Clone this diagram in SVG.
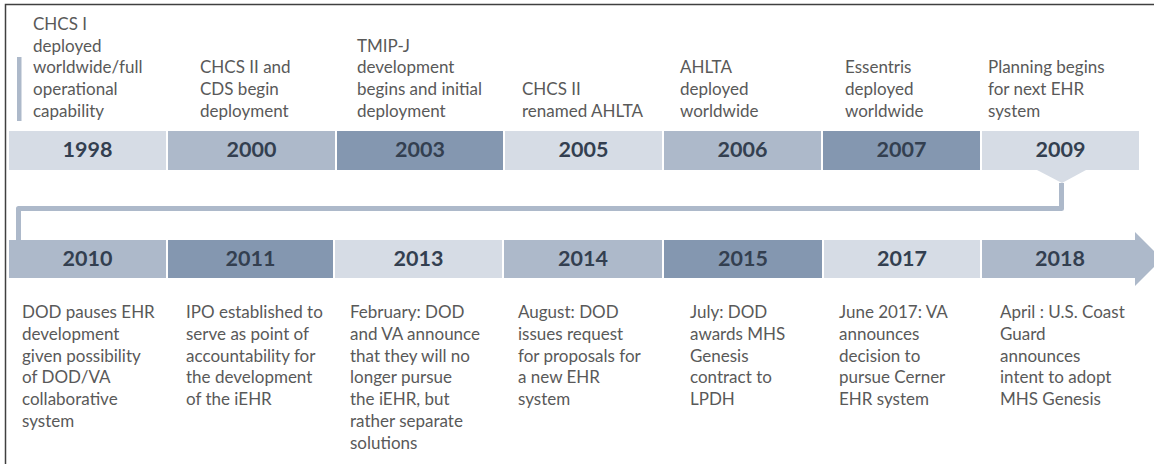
<svg xmlns="http://www.w3.org/2000/svg" width="1154" height="464" viewBox="0 0 1154 464">
<style>
.light{fill:#d6dce5}
.med{fill:#adb9ca}
.dark{fill:#8497b0}
.yr{font-family:Lato,"Liberation Sans",sans-serif;font-weight:bold;font-size:21.5px;fill:#333f50;text-anchor:middle}
.desc{font-family:Lato,"Liberation Sans",sans-serif;font-size:17px;fill:#595959}
.conn{fill:none;stroke:#adb9ca;stroke-width:5;stroke-linejoin:round}
</style>
<rect x="5.5" y="4.5" width="1160" height="470" fill="#ffffff" stroke="#404040" stroke-width="1.5"/>
<rect x="17" y="57" width="4.5" height="64" fill="#adb9ca"/>
<g id="connectors">
<polygon points="1037,170 1086,170 1062,183" fill="#d6dce5"/>
<polyline class="conn" points="1061.5,183 1061.5,208.5 18.5,208.5 18.5,240"/>
</g>
<g id="n1998"><rect class="light" x="9" y="131" width="157" height="39"/><text class="yr" x="87.5" y="157">1998</text>
<text class="desc" x="33" y="30"><tspan x="33" dy="0">CHCS I</tspan><tspan x="33" dy="21.7">deployed</tspan><tspan x="33" dy="21.7">worldwide/full</tspan><tspan x="33" dy="21.7">operational</tspan><tspan x="33" dy="21.7">capability</tspan></text></g>
<g id="n2000"><rect class="med" x="168" y="131" width="167" height="39"/><text class="yr" x="251.5" y="157">2000</text>
<text class="desc" x="200" y="73.4"><tspan x="200" dy="0">CHCS II and</tspan><tspan x="200" dy="21.7">CDS begin</tspan><tspan x="200" dy="21.7">deployment</tspan></text></g>
<g id="n2003"><rect class="dark" x="337" y="131" width="166" height="39"/><text class="yr" x="420" y="157">2003</text>
<text class="desc" x="357" y="51.7"><tspan x="357" dy="0">TMIP-J</tspan><tspan x="357" dy="21.7">development</tspan><tspan x="357" dy="21.7">begins and initial</tspan><tspan x="357" dy="21.7">deployment</tspan></text></g>
<g id="n2005"><rect class="light" x="505" y="131" width="157" height="39"/><text class="yr" x="583.5" y="157">2005</text>
<text class="desc" x="522" y="95.1"><tspan x="522" dy="0">CHCS II</tspan><tspan x="522" dy="21.7">renamed AHLTA</tspan></text></g>
<g id="n2006"><rect class="med" x="664" y="131" width="157" height="39"/><text class="yr" x="742.5" y="157">2006</text>
<text class="desc" x="680" y="73.4"><tspan x="680" dy="0">AHLTA</tspan><tspan x="680" dy="21.7">deployed</tspan><tspan x="680" dy="21.7">worldwide</tspan></text></g>
<g id="n2007"><rect class="dark" x="823" y="131" width="157" height="39"/><text class="yr" x="901.5" y="157">2007</text>
<text class="desc" x="845" y="73.4"><tspan x="845" dy="0">Essentris</tspan><tspan x="845" dy="21.7">deployed</tspan><tspan x="845" dy="21.7">worldwide</tspan></text></g>
<g id="n2009"><rect class="light" x="982" y="131" width="157" height="39"/><text class="yr" x="1060.5" y="157">2009</text>
<text class="desc" x="988" y="73.4"><tspan x="988" dy="0">Planning begins</tspan><tspan x="988" dy="21.7">for next EHR</tspan><tspan x="988" dy="21.7">system</tspan></text></g>
<g id="n2010"><rect class="med" x="9" y="240" width="157" height="38"/><text class="yr" x="87.5" y="266">2010</text>
<text class="desc" x="22" y="318.3"><tspan x="22" dy="0">DOD pauses EHR</tspan><tspan x="22" dy="21.7">development</tspan><tspan x="22" dy="21.7">given possibility</tspan><tspan x="22" dy="21.7">of DOD/VA</tspan><tspan x="22" dy="21.7">collaborative</tspan><tspan x="22" dy="21.7">system</tspan></text></g>
<g id="n2011"><rect class="dark" x="168" y="240" width="165" height="38"/><text class="yr" x="250.5" y="266">2011</text>
<text class="desc" x="186" y="318.3"><tspan x="186" dy="0">IPO established to</tspan><tspan x="186" dy="21.7">serve as point of</tspan><tspan x="186" dy="21.7">accountability for</tspan><tspan x="186" dy="21.7">the development</tspan><tspan x="186" dy="21.7">of the iEHR</tspan></text></g>
<g id="n2013"><rect class="light" x="335" y="240" width="167" height="38"/><text class="yr" x="418.5" y="266">2013</text>
<text class="desc" x="350" y="318.3"><tspan x="350" dy="0">February: DOD</tspan><tspan x="350" dy="21.7">and VA announce</tspan><tspan x="350" dy="21.7">that they will no</tspan><tspan x="350" dy="21.7">longer pursue</tspan><tspan x="350" dy="21.7">the iEHR, but</tspan><tspan x="350" dy="21.7">rather separate</tspan><tspan x="350" dy="21.7">solutions</tspan></text></g>
<g id="n2014"><rect class="med" x="504" y="240" width="158" height="38"/><text class="yr" x="583" y="266">2014</text>
<text class="desc" x="518" y="318.3"><tspan x="518" dy="0">August: DOD</tspan><tspan x="518" dy="21.7">issues request</tspan><tspan x="518" dy="21.7">for proposals for</tspan><tspan x="518" dy="21.7">a new EHR</tspan><tspan x="518" dy="21.7">system</tspan></text></g>
<g id="n2015"><rect class="dark" x="664" y="240" width="158" height="38"/><text class="yr" x="743" y="266">2015</text>
<text class="desc" x="690" y="318.3"><tspan x="690" dy="0">July: DOD</tspan><tspan x="690" dy="21.7">awards MHS</tspan><tspan x="690" dy="21.7">Genesis</tspan><tspan x="690" dy="21.7">contract to</tspan><tspan x="690" dy="21.7">LPDH</tspan></text></g>
<g id="n2017"><rect class="light" x="824" y="240" width="156" height="38"/><text class="yr" x="902" y="266">2017</text>
<text class="desc" x="839" y="318.3"><tspan x="839" dy="0">June 2017: VA</tspan><tspan x="839" dy="21.7">announces</tspan><tspan x="839" dy="21.7">decision to</tspan><tspan x="839" dy="21.7">pursue Cerner</tspan><tspan x="839" dy="21.7">EHR system</tspan></text></g>
<g id="n2018"><polygon class="med" points="982,240 1135,240 1135,232 1162,259 1135,286 1135,278 982,278"/><text class="yr" x="1060" y="266">2018</text>
<text class="desc" x="1000" y="318.3"><tspan x="1000" dy="0">April : U.S. Coast</tspan><tspan x="1000" dy="21.7">Guard</tspan><tspan x="1000" dy="21.7">announces</tspan><tspan x="1000" dy="21.7">intent to adopt</tspan><tspan x="1000" dy="21.7">MHS Genesis</tspan></text></g>
</svg>
